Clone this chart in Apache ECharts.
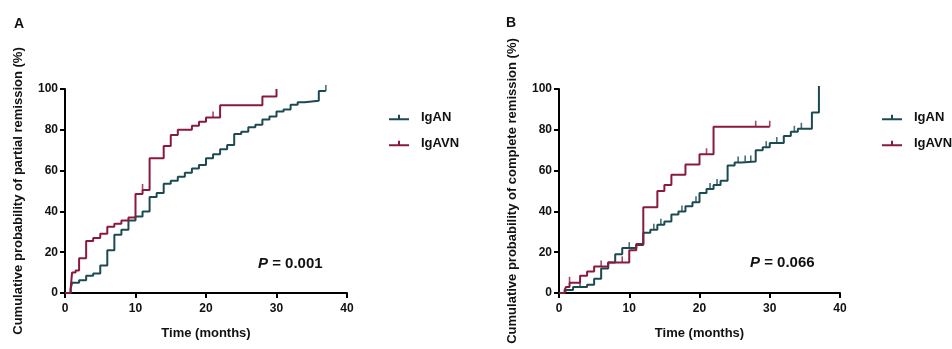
<!DOCTYPE html>
<html>
<head>
<meta charset="utf-8">
<script src="https://cdn.jsdelivr.net/npm/echarts@6/dist/echarts.min.js"></script>
<style>
html,body{margin:0;padding:0;background:#fff;}
#c{width:952px;height:349px;}
</style>
</head>
<body>
<div id="c"></div>
<script>
// ---- Data (time in months, cumulative probability in %) ----
var xTicks = [0, 10, 20, 30, 40];
var yTicks = [0, 20, 40, 60, 80, 100];

var A_IgAN = [[0,0],[0.8,2],[1,5],[2,6.3],[3,8.5],[4,9.5],[5,13.5],[6,21],[7,28.5],[8,31],[9,35.5],[10,37.5],[11,40],[12,47],[13,49],[14,53.5],[15,55],[16,57],[17,59],[18,61],[19,62.8],[20,66],[21,68],[22,70.5],[23,72.5],[24,78],[25,79],[26,81.3],[27,82.5],[28,85],[29,86.5],[30,89],[31,90],[32,92.3],[33,93.5],[34,94.2],[36,99],[37,99]];
var A_IgAVN = [[0,0],[0.8,2],[1,10],[1.5,11],[2,17],[3,25.5],[4,27],[5,29],[6,32.5],[7,34],[8,35.5],[9,37],[10,48.5],[11,50.5],[12,66],[14,72],[15,77.5],[16,80],[18,82],[19,84],[20,86],[22,92],[28,96.3],[30,100]];
var A_IgAN_cens = [[37,99]];
var A_IgAVN_cens = [[11,50.5],[21,86]];

var B_IgAN = [[0,0],[0.8,0.5],[1,1.5],[2,3],[4,4],[5,7],[6,12],[7,15],[8,19],[9,22],[11,23.5],[12,29.5],[13,31],[14,33.5],[15,35],[16,38.5],[17,40],[18,42.5],[19,44.5],[20,49],[21,51],[22,53],[23,55],[24,62.5],[25,64],[26,64.5],[28,70],[29,71.5],[30,73.5],[32,77],[33,79],[34,80.5],[36,88.5],[37,101.5]];
var B_IgAVN = [[0,0],[0.8,1.5],[1,3],[1.5,5],[3,8.5],[4,10.5],[5,13],[7,15],[10,21],[11,24],[12,42],[14,50],[15,53],[16,58],[18,63],[20,68],[22,81.5],[30,81.5]];
var B_IgAN_cens = [[3,3],[10,22],[13.5,31],[14.5,33.5],[17.5,40],[19.5,44.5],[21.5,51],[22.5,53],[25.5,64],[26.5,64.5],[27.3,64.5],[29.5,71.5],[31,73.5],[33.5,79],[34.5,80.5]];
var B_IgAVN_cens = [[1.5,5],[6,13],[9,15],[21,68],[28,81.5],[30,81.5]];

var yNames = ['Cumulative probability of partial remission (%)', 'Cumulative probability of complete remission (%)'];
var pTexts = ['0.001', '0.066'];
var seriesNames = ['IgAN', 'IgAVN'];

var TEAL = '#1c4a52';
var RED = '#8a1a3c';
var FONT = '"Liberation Sans", Arial, sans-serif';

var chart = echarts.init(document.getElementById('c'), null, {renderer: 'canvas'});

function xAxis(gi) {
  return {
    gridIndex: gi, type: 'value', min: xTicks[0], max: xTicks[xTicks.length-1], interval: 10,
    name: 'Time (months)', nameLocation: 'middle', nameGap: 34,
    nameTextStyle: {fontFamily: FONT, fontWeight: 'bold', fontSize: 13, color: '#111'},
    axisLine: {show: true, onZero: false, lineStyle: {color: '#000', width: 2}},
    axisTick: {show: true, length: 5, lineStyle: {color: '#000', width: 2}},
    axisLabel: {fontFamily: FONT, fontWeight: 'bold', fontSize: 12, color: '#111', margin: 10},
    splitLine: {show: false}
  };
}
function yAxis(gi) {
  return {
    gridIndex: gi, type: 'value', min: yTicks[0], max: yTicks[yTicks.length-1], interval: 20,
    name: yNames[gi], nameLocation: 'middle', nameGap: 40,
    nameTextStyle: {fontFamily: FONT, fontWeight: 'bold', fontSize: 13, color: '#111'},
    axisLine: {show: true, onZero: false, lineStyle: {color: '#000', width: 2}},
    axisTick: {show: true, length: 5, lineStyle: {color: '#000', width: 2}},
    axisLabel: {fontFamily: FONT, fontWeight: 'bold', fontSize: 12, color: '#111', margin: 7},
    splitLine: {show: false}
  };
}
function km(name, data, color, gi) {
  return {
    name: name, type: 'line', step: 'end', data: data, xAxisIndex: gi, yAxisIndex: gi,
    showSymbol: false, symbol: 'none', clip: false, animation: false,
    lineStyle: {color: color, width: 2}, itemStyle: {color: color}
  };
}
function cens(name, data, color, gi) {
  return {
    name: name, type: 'scatter', data: data, xAxisIndex: gi, yAxisIndex: gi,
    symbol: 'rect', symbolSize: [1.6, 6], symbolOffset: [0, -3], clip: false, animation: false,
    itemStyle: {color: color}, silent: true
  };
}
var icon = 'path://M0,4H20V6H0Z M9,0.5H11V6H9Z';
function legend(left) {
  return {
    orient: 'vertical', left: left, top: 111, padding: 0, itemWidth: 20, itemHeight: 6, itemGap: 13,
    icon: icon, data: seriesNames,
    textStyle: {fontFamily: FONT, fontWeight: 'bold', fontSize: 13, color: '#111', padding: [0,0,0,7]}
  };
}

var option = {
  backgroundColor: '#fff',
  animation: false,
  title: [
    {text: 'A', left: 9, top: 12, textStyle: {fontFamily: FONT, fontWeight: 'bold', fontSize: 14, color: '#111'}},
    {text: 'B', left: 501, top: 11, textStyle: {fontFamily: FONT, fontWeight: 'bold', fontSize: 14, color: '#111'}}
  ],
  grid: [
    {left: 65, top: 89, width: 282, height: 204},
    {left: 559, top: 89, width: 281, height: 204}
  ],
  xAxis: [xAxis(0), xAxis(1)],
  yAxis: [yAxis(0), yAxis(1)],
  legend: [legend(389), legend(882)],
  series: [
    km('IgAN', A_IgAN, TEAL, 0),
    km('IgAVN', A_IgAVN, RED, 0),
    cens('IgAN censored A', A_IgAN_cens, TEAL, 0),
    cens('IgAVN censored A', A_IgAVN_cens, RED, 0),
    km('IgAN', B_IgAN, TEAL, 1),
    km('IgAVN', B_IgAVN, RED, 1),
    cens('IgAN censored B', B_IgAN_cens, TEAL, 1),
    cens('IgAVN censored B', B_IgAVN_cens, RED, 1)
  ],
  graphic: [
    {type: 'text', left: 258, top: 256, style: {
      text: '{i|P} = ' + pTexts[0],
      rich: {i: {fontStyle: 'italic', fontWeight: 'bold', fontSize: 15, fontFamily: FONT, fill: '#111'}},
      font: 'bold 15px ' + FONT, fill: '#111'}},
    {type: 'text', left: 750, top: 255, style: {
      text: '{i|P} = ' + pTexts[1],
      rich: {i: {fontStyle: 'italic', fontWeight: 'bold', fontSize: 15, fontFamily: FONT, fill: '#111'}},
      font: 'bold 15px ' + FONT, fill: '#111'}}
  ]
};
chart.setOption(option);
</script>
</body>
</html>
